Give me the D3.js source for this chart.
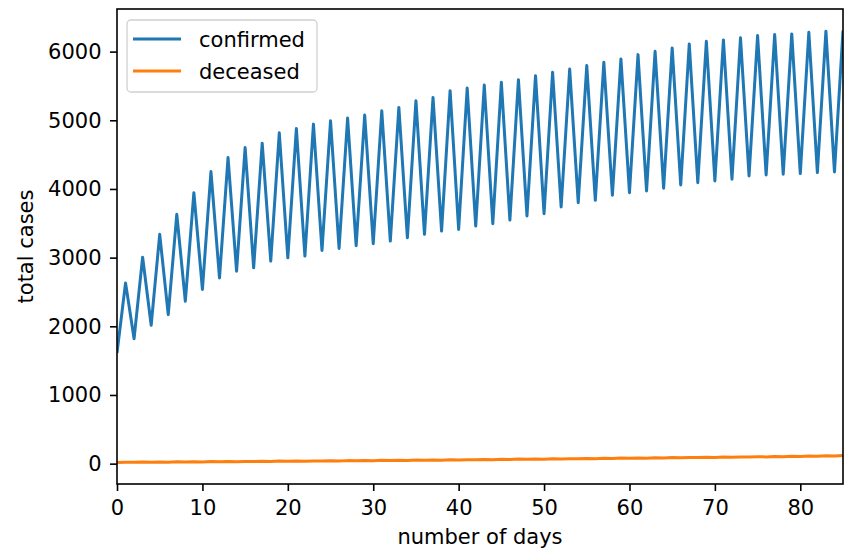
<!DOCTYPE html>
<html>
<head>
<meta charset="utf-8">
<script src="https://cdn.jsdelivr.net/npm/d3@7"></script>
<style>
  body { margin: 0; background: #fff; }
  text { font-family: "DejaVu Sans", sans-serif; fill: #000; }
</style>
</head>
<body>
<div id="chart"></div>
<script>
'use strict';

// values, one per day
var confirmed = [1610, 2632, 1820, 3007, 2015, 3339, 2170, 3630, 2365, 3946,
    2536, 4253, 2705, 4457, 2803, 4603, 2851, 4667, 2949, 4818,
    2997, 4880, 3022, 4944, 3105, 4993, 3134, 5032, 3173, 5076,
    3202, 5139, 3241, 5187, 3289, 5285, 3339, 5333, 3387, 5431,
    3411, 5470, 3460, 5514, 3494, 5552, 3547, 5591, 3606, 5650,
    3640, 5698, 3737, 5747, 3800, 5796, 3835, 5844, 3908, 5893,
    3946, 5956, 3971, 6005, 4010, 6054, 4058, 6112, 4092, 6151,
    4117, 6170, 4141, 6200, 4190, 6234, 4204, 6248, 4214, 6258,
    4224, 6282, 4238, 6297, 4248, 6306];
var deceased = [18, 22, 19, 24, 21, 25, 22, 27, 24, 28,
    25, 30, 27, 32, 29, 33, 30, 35, 32, 37,
    34, 38, 35, 40, 37, 42, 39, 44, 41, 46,
    43, 48, 45, 50, 47, 52, 49, 54, 51, 56,
    53, 58, 55, 61, 58, 63, 60, 66, 63, 68,
    65, 71, 68, 73, 70, 76, 73, 78, 75, 81,
    78, 83, 80, 86, 83, 88, 85, 91, 88, 93,
    90, 96, 93, 98, 95, 101, 98, 104, 101, 107,
    104, 110, 107, 114, 111, 118];
var days = confirmed.map(function(d, i) { return i; });
var xTicks = [0, 10, 20, 30, 40, 50, 60, 70, 80];
var yTicks = [0, 1000, 2000, 3000, 4000, 5000, 6000];
var seriesNames = ['confirmed', 'deceased'];
var colors = ['#1f77b4', '#ff7f0e'];

var width = 848, height = 555;
var margin = {top: 9, right: 5, bottom: 71, left: 117};
var fontSize = '21px';

var svg = d3.select('#chart')
    .append('svg')
    .attr('width', width)
    .attr('height', height);

svg.append('rect')
    .attr('width', width)
    .attr('height', height)
    .attr('fill', '#fff');

var x = d3.scaleLinear()
    .domain([0, 85])
    .range([margin.left, width - margin.right]);

// matplotlib style 5% padding on y
var lo = d3.min(deceased), hi = d3.max(confirmed);
var pad = (hi - lo) * 0.05;
var y = d3.scaleLinear()
    .domain([lo - pad, hi + pad])
    .range([height - margin.bottom, margin.top]);

var plot = svg.append('g');

plot.append('defs').append('clipPath')
    .attr('id', 'clip')
    .append('rect')
    .attr('x', margin.left)
    .attr('y', margin.top)
    .attr('width', width - margin.left - margin.right)
    .attr('height', height - margin.top - margin.bottom);

var line = d3.line()
    .x(function(d) { return x(d[0]); })
    .y(function(d) { return y(d[1]); });

[confirmed, deceased].forEach(function(vals, i) {
    plot.append('path')
        .datum(days.map(function(d, j) { return [d, vals[j]]; }))
        .attr('clip-path', 'url(#clip)')
        .attr('fill', 'none')
        .attr('stroke', colors[i])
        .attr('stroke-width', 3)
        .attr('stroke-linejoin', 'round')
        .attr('d', line);
});

// axes
var xAxis = svg.append('g')
    .attr('transform', 'translate(0,' + (height - margin.bottom) + ')')
    .call(d3.axisBottom(x).tickValues(xTicks).tickSize(7).tickPadding(9));
var yAxis = svg.append('g')
    .attr('transform', 'translate(' + margin.left + ',0)')
    .call(d3.axisLeft(y).tickValues(yTicks).tickFormat(d3.format('d')).tickSize(7).tickPadding(8.5));

[xAxis, yAxis].forEach(function(ax) {
    ax.select('.domain').remove();
    ax.selectAll('line').attr('stroke', '#000').attr('stroke-width', 1.6);
    ax.selectAll('text')
        .style('font-family', '"DejaVu Sans", sans-serif')
        .style('font-size', fontSize)
        .attr('fill', '#000');
});

// frame
svg.append('rect')
    .attr('x', margin.left)
    .attr('y', margin.top)
    .attr('width', width - margin.left - margin.right)
    .attr('height', height - margin.top - margin.bottom)
    .attr('fill', 'none')
    .attr('stroke', '#000')
    .attr('stroke-width', 1.6);

svg.append('text')
    .attr('x', (margin.left + width - margin.right) / 2)
    .attr('y', 544)
    .attr('text-anchor', 'middle')
    .style('font-size', fontSize)
    .text('number of days');

svg.append('text')
    .attr('transform', 'translate(33,' + ((margin.top + height - margin.bottom) / 2) + ') rotate(-90)')
    .attr('text-anchor', 'middle')
    .style('font-size', fontSize)
    .text('total cases');

// legend
var legend = svg.append('g').attr('transform', 'translate(127,20)');
legend.append('rect')
    .attr('width', 190)
    .attr('height', 72)
    .attr('rx', 4)
    .attr('fill', '#fff')
    .attr('fill-opacity', 0.8)
    .attr('stroke', '#d0d0d0')
    .attr('stroke-width', 1.3);

seriesNames.forEach(function(name, i) {
    var ly = 19 + i * 32;
    legend.append('line')
        .attr('x1', 6).attr('x2', 54)
        .attr('y1', ly).attr('y2', ly)
        .attr('stroke', colors[i])
        .attr('stroke-width', 3);
    legend.append('text')
        .attr('x', 72)
        .attr('y', ly + 8)
        .style('font-size', fontSize)
        .text(name);
});
</script>
</body>
</html>
